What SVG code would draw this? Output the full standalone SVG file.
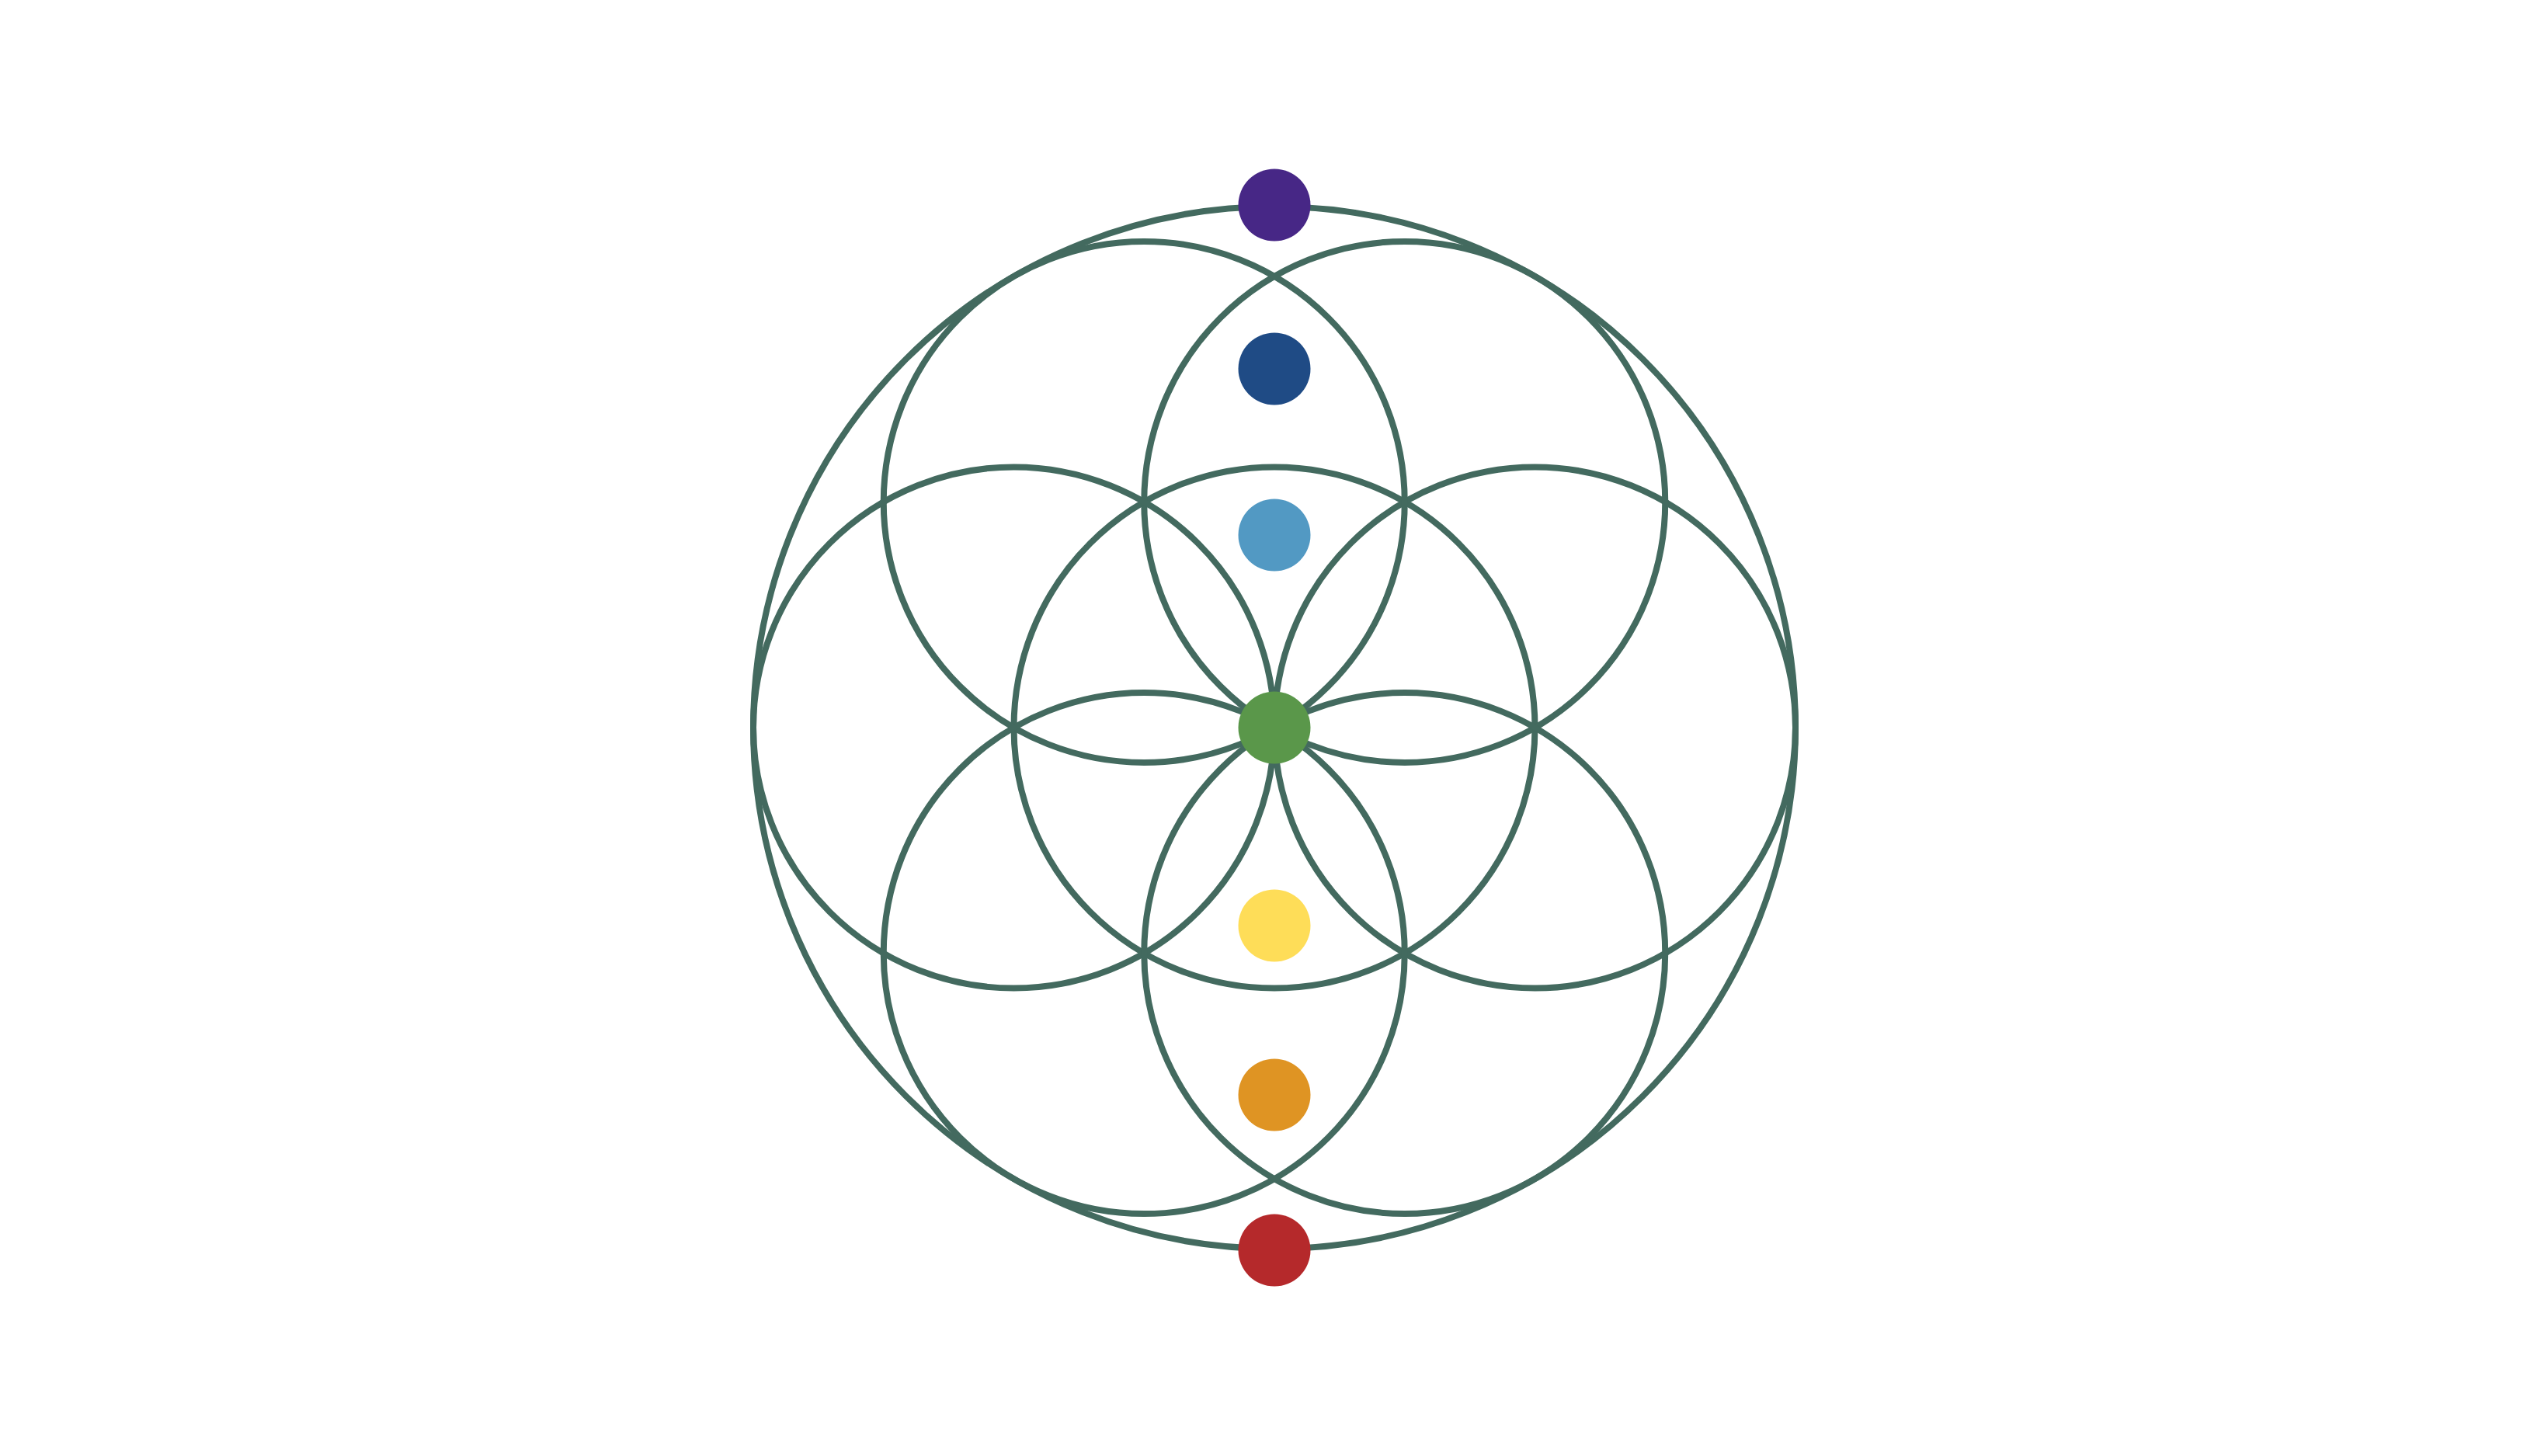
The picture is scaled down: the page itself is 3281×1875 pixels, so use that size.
<svg xmlns="http://www.w3.org/2000/svg" width="3281" height="1875" viewBox="0 0 3281 1875">
  <style>
    .ring { fill: none; stroke: #436A5F; stroke-width: 8; }
    .dot { stroke: none; }
  </style>
  <rect x="0" y="0" width="3281" height="1875" fill="#FFFFFF"/>
  <g id="connectors">
    <circle class="ring" cx="1641" cy="937" r="671"/>
    <circle class="ring" cx="1641" cy="937" r="335.5"/>
    <circle class="ring" cx="1976.5" cy="937" r="335.5"/>
    <circle class="ring" cx="1808.75" cy="646.45" r="335.5"/>
    <circle class="ring" cx="1473.25" cy="646.45" r="335.5"/>
    <circle class="ring" cx="1305.5" cy="937" r="335.5"/>
    <circle class="ring" cx="1473.25" cy="1227.55" r="335.5"/>
    <circle class="ring" cx="1808.75" cy="1227.55" r="335.5"/>
  </g>
  <g id="node-crown"><circle class="dot" cx="1641" cy="264" r="46.5" fill="#472786"/></g>
  <g id="node-third-eye"><circle class="dot" cx="1641" cy="475" r="46.5" fill="#1F4B85"/></g>
  <g id="node-throat"><circle class="dot" cx="1641" cy="689" r="46.5" fill="#5299C3"/></g>
  <g id="node-heart"><circle class="dot" cx="1641" cy="937" r="46.5" fill="#5A974A"/></g>
  <g id="node-solar-plexus"><circle class="dot" cx="1641" cy="1192" r="46.5" fill="#FEDD58"/></g>
  <g id="node-sacral"><circle class="dot" cx="1641" cy="1410" r="46.5" fill="#DF9423"/></g>
  <g id="node-root"><circle class="dot" cx="1641" cy="1610" r="46.5" fill="#B5292B"/></g>
</svg>
